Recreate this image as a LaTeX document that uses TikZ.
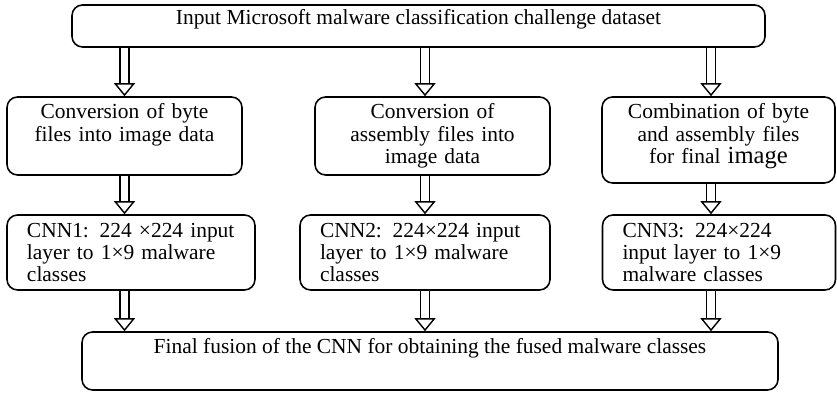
\documentclass[tikz,border=0pt]{standalone}
\usepackage{fontspec}
\setmainfont{Liberation Serif}
\usepackage{tikz}
\usetikzlibrary{arrows.meta, positioning, calc}

\begin{document}
\begin{tikzpicture}[font=\fontsize{12.2}{12.6}\selectfont,
          blk/.style={draw, line width=0.9pt, rounded corners=6pt,
                      inner xsep=0.2cm, inner ysep=0pt, text height=0.44cm},
          mid/.style={blk, align=center, text width=#1},
          cnn/.style={blk, align=left, inner xsep=0.4cm, text width=#1,
                      minimum height=1.5cm, text height=0.45cm, text depth=1.05cm},
          dbl/.style={double, double distance=0.15cm, line width=0.8pt,
                      -{Triangle[open, length=0.26cm, width=0.42cm]}}]
          \useasboundingbox (0, 0) rectangle (16.74, 7.86);
          \node[blk, minimum width=13.86cm, minimum height=0.84cm,
                text height=0.4cm, text depth=0.44cm] (inp)
            at (8.37, 7.34) {Input Microsoft malware classification challenge dataset};
          \node[mid=4.3cm, minimum width=4.7cm, text depth=1.12cm] (conv1)
            at (2.49, 5.14) {Conversion of byte\\files into image data};
          \node[mid=4.3cm, minimum width=4.7cm, text depth=1.12cm] (conv2)
            at (8.65, 5.14) {Conversion of\\assembly files into\\image data};
          \node[mid=4.26cm, minimum width=4.66cm, text depth=1.28cm] (conv3)
            at (14.37, 5.06) {Combination of byte\\and assembly files\\for final {\fontsize{14}{12.6}\selectfont image}};
          \node[cnn=4.16cm] (cnn1)
            at (2.62, 2.81) {CNN1: 224 ×224 input\\layer to 1×9 malware\\classes};
          \node[cnn=4.2cm] (cnn2)
            at (8.5, 2.81) {CNN2: 224×224 input\\layer to 1×9 malware\\classes};
          \node[cnn=3.86cm] (cnn3)
            at (14.38, 2.81) {CNN3: 224×224\\input layer to 1×9\\malware classes};
          \node[blk, minimum width=13.92cm, minimum height=1.16cm,
                text depth=0.72cm] (fuse)
            at (8.6, 0.64) {Final fusion of the CNN for obtaining the fused malware classes};
          % input -> conversions
          \draw[dbl] (inp.south -| conv1.north) -- (conv1.north);
          \draw[dbl] (inp.south -| cnn2.north) -- (conv2.north -| cnn2.north);
          \draw[dbl] ([xshift=-0.15cm]inp.south -| conv3.north) -- ([xshift=-0.15cm]conv3.north);
          % conversions -> CNNs
          \draw[dbl] (conv1.south) -- (cnn1.north -| conv1.south);
          \draw[dbl] (conv2.south -| cnn2.north) -- (cnn2.north);
          \draw[dbl] ([xshift=-0.15cm]conv3.south) -- ([xshift=-0.15cm]cnn3.north -| conv3.south);
          % CNNs -> fusion
          \draw[dbl] (cnn1.south -| conv1.south) -- (fuse.north -| conv1.south);
          \draw[dbl] (cnn2.south) -- (fuse.north -| cnn2.south);
          \draw[dbl] ([xshift=-0.15cm]cnn3.south -| conv3.south) -- ([xshift=-0.15cm]fuse.north -| conv3.south);
        \end{tikzpicture}
\end{document}
